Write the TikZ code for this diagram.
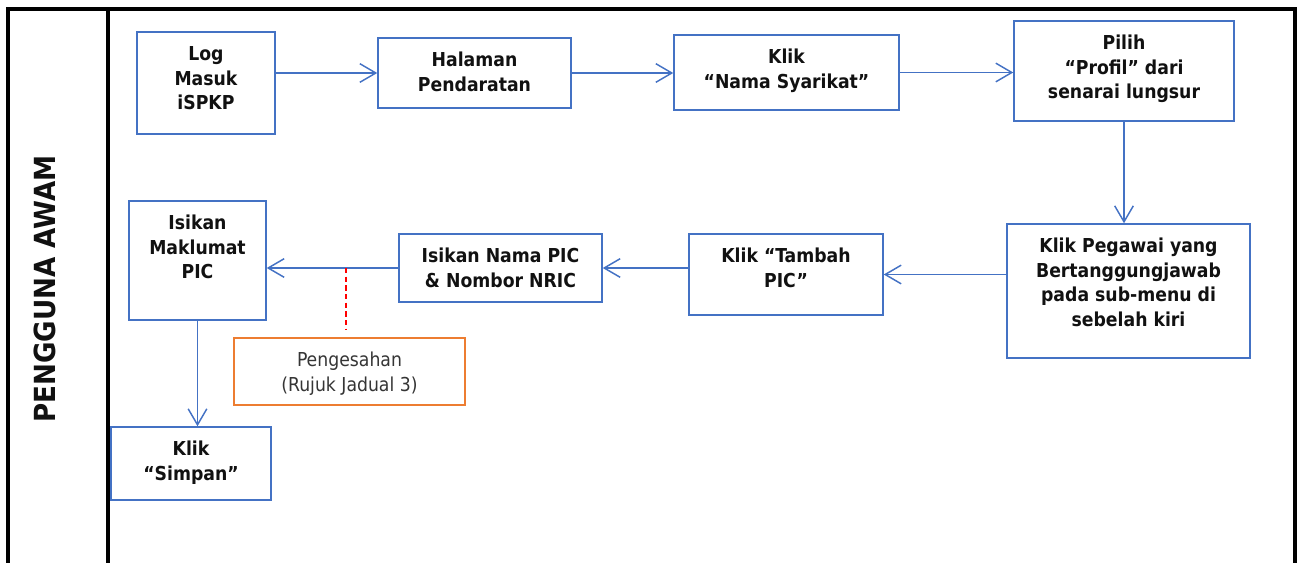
\documentclass[tikz,border=0pt]{standalone}
\usepackage{fontspec}
\setmainfont{DejaVu Sans Condensed}
\usetikzlibrary{arrows.meta}
\definecolor{boxblue}{HTML}{4472C4}
\definecolor{boxorange}{HTML}{ED7D31}
\definecolor{inktext}{HTML}{111111}

% fixed-size box content with the text set from the top
\newcommand\boxtext[3]{\parbox[c][#2][t]{#1}{\centering\vspace*{8.6pt}\strut #3\par}}

\tikzset{
  box/.style={draw=boxblue, line width=1.1pt, inner sep=0pt, text=inktext,
              font=\fontsize{14.4}{18.4}\selectfont\bfseries},
  notebox/.style={draw=boxorange, line width=1.1pt, inner sep=0pt, text=inktext!85,
              font=\fontsize{14.4}{18.4}\selectfont},
  arr/.style={draw=boxblue, line width=1.1pt,
              -{Straight Barb[length=12pt, width=14pt, line width=1.1pt]}},
  redtie/.style={draw=red, line width=1.5pt, dash pattern=on 4pt off 2.5pt},
  frame/.style={line width=2.3pt, draw=black},
}

\begin{document}
\begin{tikzpicture}[x=0.75pt, y=-0.75pt]
  \useasboundingbox (0,0) rectangle (1299,563);

  % swimlane frame
  \draw[frame] (8,563) -- (8,9) -- (1295,9) -- (1295,563);
  \draw[frame] (108,9) -- (108,563);
  \node[rotate=90, text=inktext, font=\fontsize{21.8}{25}\selectfont\bfseries] (lane) at (45,289) {PENGGUNA AWAM};

  % process steps
  \node[box] (b1) at (206,83) {\boxtext{103.5pt}{76.5pt}{Log\\Masuk\\iSPKP}};
  \node[box] (b2) at (474.5,73) {\boxtext{144.75pt}{52.5pt}{Halaman\\Pendaratan}};
  \node[box] (b3) at (786.5,72.5) {\boxtext{168.75pt}{56.25pt}{Klik\\“Nama Syarikat”}};
  \node[box] (b4) at (1124,71) {\boxtext{165pt}{75pt}{Pilih\\“Profil” dari\\senarai lungsur}};
  \node[box] (b5) at (1128.5,291) {\boxtext{182.25pt}{100.5pt}{Klik Pegawai yang\\Bertanggungjawab\\pada sub-menu di\\sebelah kiri}};
  \node[box] (b6) at (786,274.5) {\boxtext{145.5pt}{60.75pt}{Klik “Tambah\\PIC”}};
  \node[box] (b7) at (500.5,268) {\boxtext{152.25pt}{51pt}{Isikan Nama PIC\\\& Nombor NRIC}};
  \node[box] (b8) at (197.5,260.5) {\boxtext{102.75pt}{89.25pt}{Isikan\\Maklumat\\PIC}};
  \node[box] (b9) at (191,463.5) {\boxtext{120pt}{54.75pt}{Klik\\“Simpan”}};
  \node[notebox] (b10) at (349.5,371.5) {\boxtext{173.25pt}{50.25pt}{Pengesahan\\(Rujuk Jadual 3)}};

  % flow
  \draw[arr] (b1.east |- b2.west) -- (b2.west);
  \draw[arr] (b2.east) -- (b2.east -| b3.west);
  \draw[arr] (b3.east) -- (b3.east -| b4.west);
  \draw[arr] (b4.south) -- (b4.south |- b5.north);
  \draw[arr] (b5.west |- b6.east) -- (b6.east);
  \draw[arr] (b6.west |- b7.east) -- (b7.east);
  \draw[arr] (b7.west) -- (b7.west -| b8.east);
  \draw[arr] (b8.south) -- (b8.south |- b9.north);

  % validation note attached to the data-entry link
  \coordinate (tap) at ([xshift=-2.5pt]b10.north |- b7.west);
  \draw[redtie] (tap) -- ([yshift=6pt]tap |- b10.north);
\end{tikzpicture}
\end{document}
